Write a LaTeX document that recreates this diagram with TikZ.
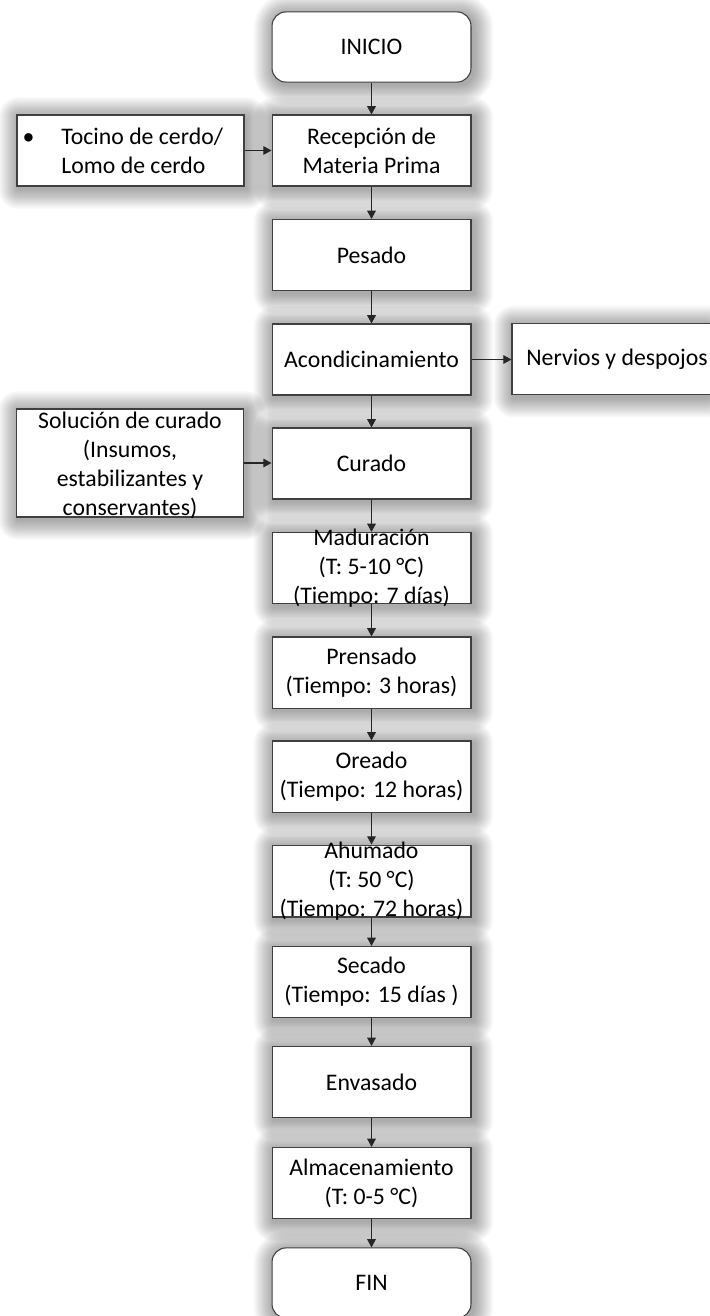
\documentclass[tikz,border=0pt]{standalone}
\usepackage{fontspec}
\setmainfont{Carlito}
\usetikzlibrary{arrows.meta,calc,backgrounds}

\tikzset{
  box/.style={draw=black!75, line width=0.5pt, fill=white,
    minimum width=92.1pt, minimum height=32.9pt, inner sep=0pt,
    align=center, font=\fontsize{11pt}{13.4pt}\selectfont},
  term/.style={box, rounded corners=6.5pt, minimum height=32.5pt},
  sidebox/.style={box, minimum width=105.1pt},
  txt/.style={inner sep=0pt, align=center, font=\fontsize{11pt}{13.4pt}\selectfont},
  flow/.style={draw=black!85, line width=0.5pt, -{Triangle[length=3.8pt,width=4pt]}}
}

% soft grey halo behind a box (drawn on the background layer)
\newcommand\boxglow[2][0]{%
  \foreach \k in {1,...,18}{%
    \pgfmathsetmacro\rr{#1+0.5*\k}%
    \fill[black, opacity=0.02, rounded corners=\rr pt]
      ($(#2.north west)+({2-1.1*\k},{2.5-1.1*\k})$) rectangle
      ($(#2.south east)+({2+1.1*\k},{2.5+1.1*\k})$);
  }}

\begin{document}
\begin{tikzpicture}[x=0.463pt, y=-0.463pt]
\useasboundingbox (0,0) rectangle (709,1316);
\begin{pgfonlayer}{background}
  \fill[white] (0,0) rectangle (709,1316);
\end{pgfonlayer}

% main column
\node[term] (ini) at (371.5,47) {INICIO};
\node[box]  (rec) at (371.5,150.5) {Recepción de\\Materia Prima};
\node[box]  (pes) at (371.5,255) {Pesado};
\node[box]  (aco) at (371.5,359.5) {Acondicinamiento};
\node[box]  (cur) at (371.5,463.5) {Curado};
\node[box]  (mad) at (371.5,568) {};
\node[txt]  (madT) at (mad) {Maduración\\(T: 5-10 °C)\\(Tiempo: 7 días)};
\node[box]  (pre) at (371.5,672.5) {Prensado\\(Tiempo: 3 horas)};
\node[box]  (ore) at (371.5,776.5) {Oreado\\(Tiempo: 12 horas)};
\node[box, minimum height=33.3pt] (ahu) at (371.5,881) {};
\node[txt]  (ahuT) at (ahu) {Ahumado\\(T: 50 °C)\\(Tiempo: 72 horas)};
\node[box]  (sec) at (371.5,982) {Secado\\(Tiempo: 15 días )};
\node[box]  (env) at (371.5,1082) {Envasado};
\node[box]  (alm) at (371.5,1183) {Almacenamiento\\(T: 0-5 °C)};
\node[term] (fin) at (371.5,1283) {FIN};

% side inputs and outputs
\node[sidebox] (toc) at (130.5,150.5) {};
\node[txt, align=left, anchor=west] (tocT) at (61,150.5)
  {\llap{•\hspace{12.5pt}}Tocino de cerdo/\\Lomo de cerdo};
\node[box, minimum width=97.2pt] (ner) at (617,359) {Nervios y despojos};
\node[sidebox, minimum height=50pt] (sol) at (130,463) {};
\node[txt] (solT) at (130,465) {Solución de curado\\(Insumos,\\estabilizantes y\\conservantes)};

% halos
\begin{pgfonlayer}{background}
  \boxglow[6.5]{ini}
  \foreach \n in {rec,pes,aco,cur,mad,pre,ore,ahu,sec,env,alm,toc,ner,sol}{\boxglow{\n}}
  \boxglow[6.5]{fin}
\end{pgfonlayer}

% connectors
\draw[flow] (ini.south) -- (rec.north);
\draw[flow] (rec.south) -- (pes.north);
\draw[flow] (pes.south) -- (aco.north);
\draw[flow] (aco.south) -- (cur.north);
\draw[flow] (cur.south) -- (mad.north);
\draw[flow] (mad.south) -- (pre.north);
\draw[flow] (pre.south) -- (ore.north);
\draw[flow] (ore.south) -- (ahu.north);
\draw[flow] (ahu.south) -- (sec.north);
\draw[flow] (sec.south) -- (env.north);
\draw[flow] (env.south) -- (alm.north);
\draw[flow] (alm.south) -- (fin.north);
\draw[flow] (toc.east) -- (rec.west);
\draw[flow] (aco.east) -- (aco.east -| ner.west);
\draw[flow] (sol.east) -- (sol.east -| cur.west);
\end{tikzpicture}
\end{document}
